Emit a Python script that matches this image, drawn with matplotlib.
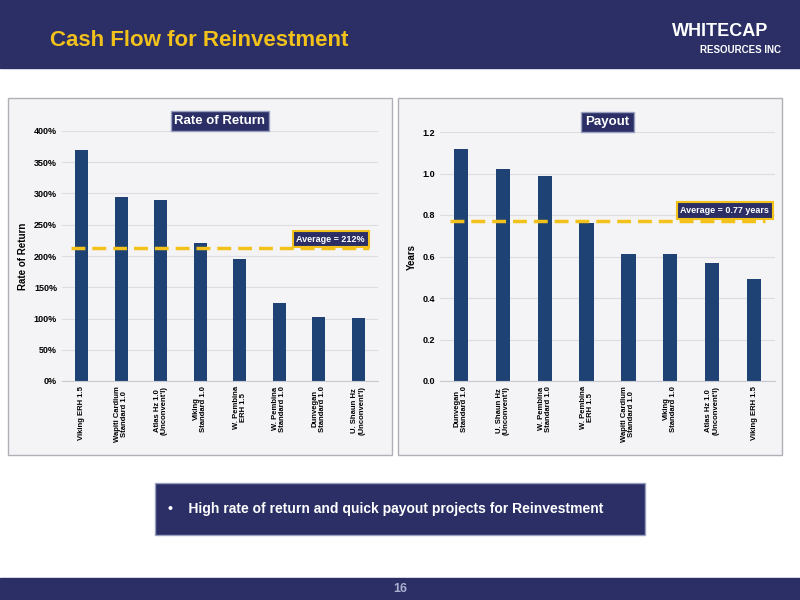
import matplotlib
matplotlib.use('Agg')
import matplotlib.pyplot as plt
from matplotlib.patches import Rectangle
import numpy as np

plt.rcParams['font.family'] = ['Liberation Sans Narrow', 'Liberation Sans', 'DejaVu Sans']
plt.rcParams['font.weight'] = 'bold'
plt.rcParams['axes.labelweight'] = 'bold'

# data
ror_labels = ['Viking ERH 1.5', 'Wapiti Cardium\nStandard 1.0', 'Atlas Hz 1.0\n(Unconvent\'l)',
              'Viking\nStandard 1.0', 'W. Pembina\nERH 1.5', 'W. Pembina\nStandard 1.0',
              'Dunvegan\nStandard 1.0', 'U. Shaun Hz\n(Unconvent\'l)']
ror_values = [370, 295, 290, 220, 196, 125, 102, 101]
ror_avg = 212

pay_labels = ['Dunvegan\nStandard 1.0', 'U. Shaun Hz\n(Unconvent\'l)', 'W. Pembina\nStandard 1.0',
              'W. Pembina\nERH 1.5', 'Wapiti Cardium\nStandard 1.0', 'Viking\nStandard 1.0',
              'Atlas Hz 1.0\n(Unconvent\'l)', 'Viking ERH 1.5']
pay_values = [1.12, 1.02, 0.99, 0.76, 0.61, 0.61, 0.57, 0.49]
pay_avg = 0.77

navy = '#2b2f66'
bar_c = '#1f4274'
gold = '#f2c21b'

fig = plt.figure(figsize=(8, 6), dpi=100)
fig.patch.set_facecolor('white')

def px(x, y, w, h):
    return [x / 800, 1 - (y + h) / 600, w / 800, h / 600]

def rect(x, y, w, h, **kw):
    fig.patches.append(Rectangle((x / 800, 1 - (y + h) / 600), w / 800, h / 600,
                                 transform=fig.transFigure, zorder=-5, **kw))

# header / footer
rect(0, 0, 800, 68, color=navy)
rect(0, 578, 800, 22, color=navy)
fig.text(50 / 800, 1 - 41 / 600, 'Cash Flow for Reinvestment', color=gold, fontsize=16, va='center')
fig.text(672 / 800, 1 - 31 / 600, 'WHITECAP', color='white', fontsize=13, va='center')
fig.text(700 / 800, 1 - 50 / 600, 'RESOURCES INC', color='white', fontsize=7, va='center')
fig.text(400 / 800, 1 - 589 / 600, '16', color='#aab0d0', fontsize=9, ha='center', va='center')

# panels
for x0 in (8, 398):
    rect(x0, 98, 384, 357, facecolor='#f4f4f6', edgecolor='#b0b0b8', lw=1)

def draw(ax, labels, values, avg, ymax, step, fmt, title, avgtxt, ylabel, boxx, dy):
    x = np.arange(len(values))
    ax.set_facecolor('#f4f4f6')
    ax.bar(x, values, width=0.34, color=bar_c, zorder=2)
    ax.axhline(avg, xmin=0.03, xmax=0.97, color=gold, lw=2.5, ls=(0, (4, 2)), zorder=3)
    ax.set_xlim(-0.5, len(values) - 0.5)
    ax.set_ylim(0, ymax)
    ticks = np.arange(0, ymax + step / 2, step)
    ax.set_yticks(ticks)
    ax.set_yticklabels([fmt(t) for t in ticks], fontsize=6.5)
    ax.set_xticks(x)
    ax.set_xticklabels(labels, rotation=90, fontsize=5.5, linespacing=1.0)
    ax.grid(axis='y', color='#dcdce2', lw=0.8, zorder=0)
    for s in ax.spines.values():
        s.set_visible(False)
    ax.spines['bottom'].set_visible(True)
    ax.spines['bottom'].set_color('#c8c8d0')
    ax.tick_params(length=0)
    ax.set_ylabel(ylabel, fontsize=7, labelpad=4)
    ax.text(0.5, 1.04, title, transform=ax.transAxes, ha='center', va='center', color='white', fontsize=9.5,
            bbox=dict(boxstyle='square,pad=0.3', fc=navy, ec='#9aa0c0', lw=1))
    ax.text(boxx, avg + dy, avgtxt, transform=ax.get_yaxis_transform(), ha='center', va='bottom',
            color='white', fontsize=6.5, bbox=dict(boxstyle='square,pad=0.4', fc=navy, ec=gold, lw=1.5), zorder=4)

ax1 = fig.add_axes(px(62, 131, 316, 250))
draw(ax1, ror_labels, ror_values, ror_avg, 400, 50, lambda t: f'{int(t)}%', 'Rate of Return',
     'Average = 212%', 'Rate of Return', 0.85, 8)

ax2 = fig.add_axes(px(440, 132, 335, 249))
draw(ax2, pay_labels, pay_values, pay_avg, 1.2, 0.2, lambda t: f'{t:.1f}', 'Payout',
     'Average = 0.77 years', 'Years', 0.85, 0.03)

# bullet box
rect(155, 483, 490, 52, facecolor=navy, edgecolor='#9aa0c0', lw=1)
fig.text(168 / 800, 1 - 509 / 600, '\u2022    High rate of return and quick payout projects for Reinvestment',
         color='white', fontsize=10, va='center')

fig.savefig('out.png', dpi=100)
